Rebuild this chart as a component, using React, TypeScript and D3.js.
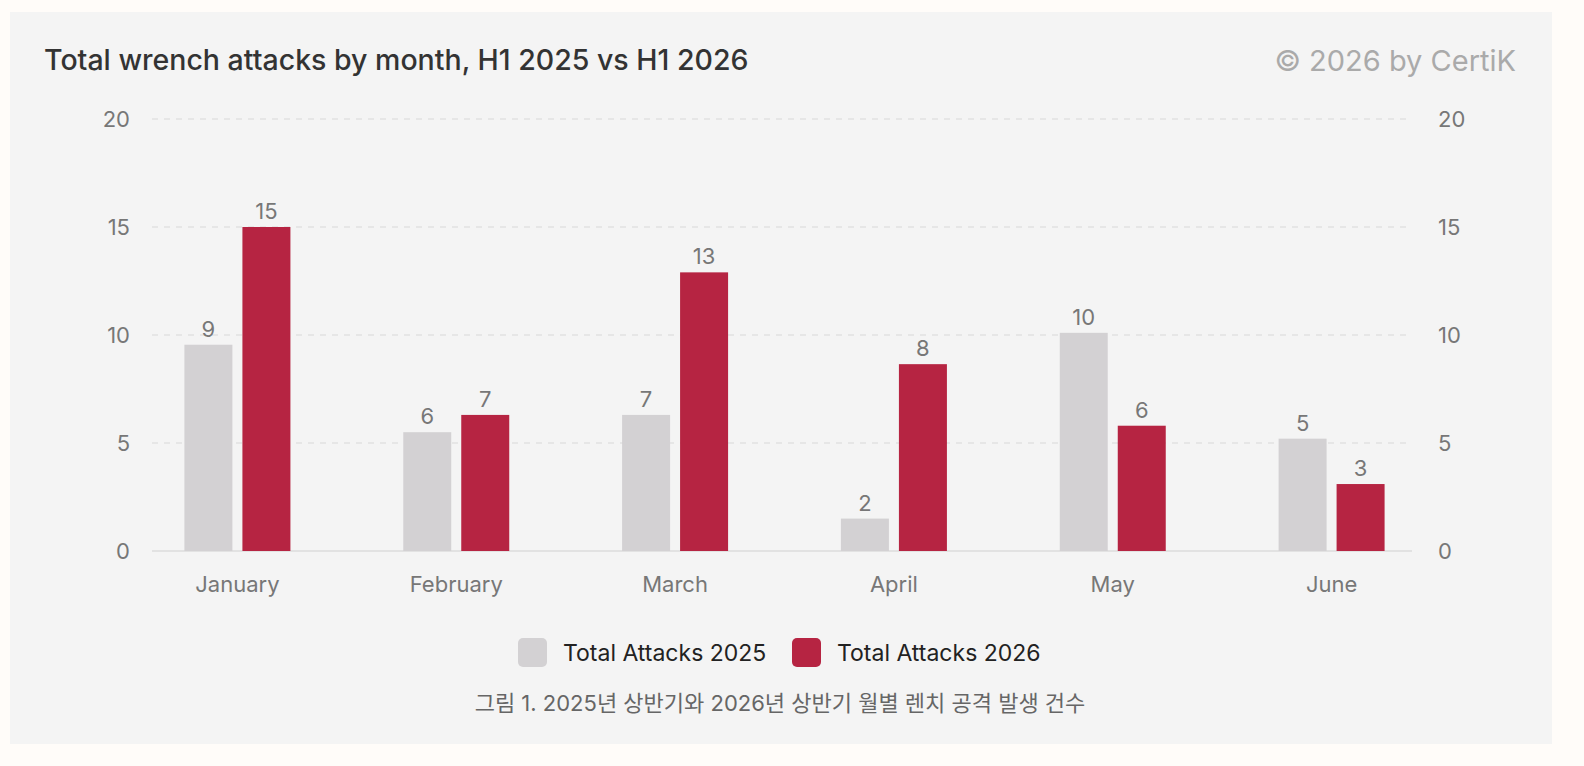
import React, { useEffect, useRef } from 'react';
import * as d3 from 'd3';

const months = ['January', 'February', 'March', 'April', 'May', 'June'];
// bar heights as drawn in the reference
const values2025 = [9.55, 5.5, 6.3, 1.5, 10.1, 5.2];
const values2026 = [15, 6.3, 12.9, 8.65, 5.8, 3.1];
// printed labels
const labels2025 = ['9', '6', '7', '2', '10', '5'];
const labels2026 = ['15', '7', '13', '8', '6', '3'];
const yTicks = [0, 5, 10, 15, 20];
const seriesNames = ['Total Attacks 2025', 'Total Attacks 2026'];
const colors = ['#d3d1d3', '#b62442'];

const App: React.FC = () => {
  const ref = useRef<SVGSVGElement>(null);

  useEffect(() => {
    if (!ref.current) return;
    const svg = d3.select(ref.current);
    svg.selectAll('*').remove();
    const W = 1584, H = 766;
    const font = 'Inter, "Noto Sans", sans-serif';

    svg.append('rect').attr('width', W).attr('height', H).attr('fill', '#fffcf9');
    svg.append('rect').attr('x', 10).attr('y', 12).attr('width', 1542).attr('height', 732).attr('fill', '#f4f4f4');

    const x = d3.scaleBand().domain(months).range([128, 1441]);
    const y = d3.scaleLinear().domain([0, 20]).range([551, 119]);

    // grid
    svg.append('g').selectAll('line').data(yTicks).join('line')
      .attr('x1', 152).attr('x2', 1412)
      .attr('y1', d => y(d)).attr('y2', d => y(d))
      .attr('stroke', d => d === 0 ? '#e2e2e2' : '#e6e6e6')
      .attr('stroke-width', 2)
      .attr('stroke-dasharray', d => d === 0 ? null : '6,6');

    const tickStyle = (s: any) => s.attr('font-family', font).attr('font-size', 22).attr('fill', '#777');
    svg.append('g').selectAll('text').data(yTicks).join('text')
      .attr('x', 130).attr('y', d => y(d)).attr('dy', '0.35em').attr('text-anchor', 'end')
      .text(d => d).call(tickStyle);
    svg.append('g').selectAll('text').data(yTicks).join('text')
      .attr('x', 1438).attr('y', d => y(d)).attr('dy', '0.35em').attr('text-anchor', 'start')
      .text(d => d).call(tickStyle);
    svg.append('g').selectAll('text').data(months).join('text')
      .attr('x', d => x(d)! + x.bandwidth() / 2).attr('y', 592).attr('text-anchor', 'middle')
      .text(d => d).call(tickStyle);

    const barW = 48, gap = 10;
    [values2025, values2026].forEach((vals, si) => {
      const labs = si === 0 ? labels2025 : labels2026;
      const off = si === 0 ? -gap / 2 - barW : gap / 2;
      const g = svg.append('g');
      g.selectAll('rect').data(vals).join('rect')
        .attr('x', (_, i) => x(months[i])! + x.bandwidth() / 2 + off)
        .attr('y', d => y(d)).attr('width', barW).attr('height', d => y(0) - y(d))
        .attr('fill', colors[si]);
      g.selectAll('text').data(vals).join('text')
        .attr('x', (_, i) => x(months[i])! + x.bandwidth() / 2 + off + barW / 2)
        .attr('y', d => y(d) - 8).attr('text-anchor', 'middle')
        .text((_, i) => labs[i]).call(tickStyle);
    });

    svg.append('text').attr('x', 44).attr('y', 70).text('Total wrench attacks by month, H1 2025 vs H1 2026')
      .attr('font-family', font).attr('font-size', 28.5).attr('font-weight', 500).attr('fill', '#333');
    svg.append('text').attr('x', 1516).attr('y', 71).attr('text-anchor', 'end').text('© 2026 by CertiK')
      .attr('font-family', font).attr('font-size', 29).attr('fill', '#aaa');

    const legX = [518, 792];
    seriesNames.forEach((n, i) => {
      svg.append('rect').attr('x', legX[i]).attr('y', 638).attr('width', 29).attr('height', 29).attr('rx', 5).attr('fill', colors[i]);
      svg.append('text').attr('x', legX[i] + 45).attr('y', 653).attr('dy', '0.35em').text(n)
        .attr('font-family', font).attr('font-size', 23).attr('fill', '#222');
    });

    svg.append('text').attr('x', 780).attr('y', 711).attr('text-anchor', 'middle')
      .text('그림 1. 2025년 상반기와 2026년 상반기 월별 렌치 공격 발생 건수')
      .attr('font-family', 'Inter, "Noto Sans CJK KR", sans-serif').attr('font-size', 22).attr('fill', '#666');
  }, []);

  return <svg ref={ref} width={1584} height={766} style={{ position: 'absolute', left: 0, top: 0 }} />;
};

export default App;
